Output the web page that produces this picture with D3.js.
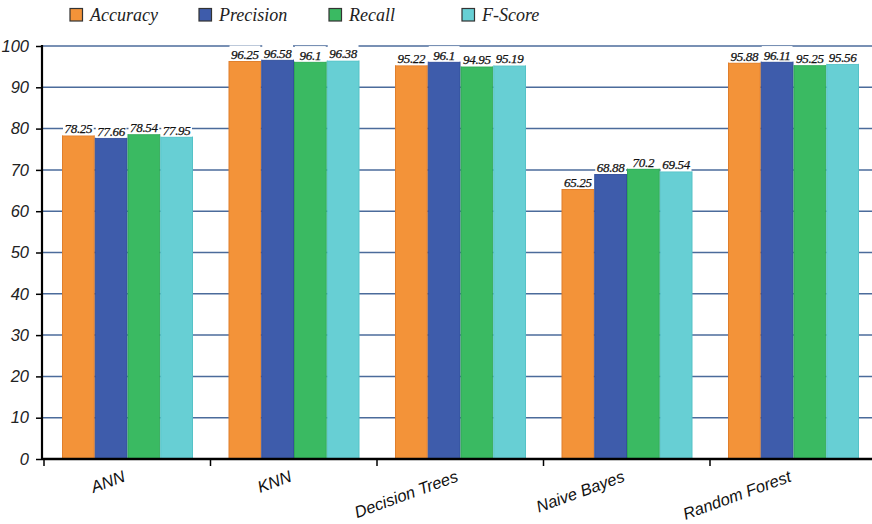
<!DOCTYPE html>
<html><head><meta charset="utf-8">
<script src="https://cdn.jsdelivr.net/npm/d3@7/dist/d3.min.js"></script>
<style>body{margin:0;background:#fff}svg{display:block}</style>
</head><body>
<svg id="c" width="872" height="524"></svg>
<script>
const categories = ["ANN","KNN","Decision Trees","Naive Bayes","Random Forest"];
const seriesNames = ["Accuracy","Precision","Recall","F-Score"];
const accuracy  = [78.25, 96.25, 95.22, 65.25, 95.88];
const precision = [77.66, 96.58, 96.1, 68.88, 96.11];
const recall    = [78.54, 96.1, 94.95, 70.2, 95.25];
const fscore    = [77.95, 96.38, 95.19, 69.54, 95.56];
const yTicks = [0,10,20,30,40,50,60,70,80,90,100];
const colors = ["#f39339","#3e5cab","#3aba62","#67cfd4"];
const strokes = ["#e07f2c","#33509c","#2fa856","#55c2c7"];
const seriesVals = [accuracy, precision, recall, fscore];

const svg = d3.select("#c");
const mLeft = 42, mTop = 46, mBottom = 459, mRight = 872;
const y = d3.scaleLinear().domain([0,100]).range([mBottom, mTop]);
const x0 = d3.scaleBand().domain(categories).range([44, 876.5]).padding(0);
const x1 = d3.scaleBand().domain(seriesNames).range([18, 149]).padding(0);

// gridlines
svg.append("g").selectAll("line").data(yTicks.filter(t=>t>0)).join("line")
  .attr("x1", mLeft).attr("x2", mRight)
  .attr("y1", d=>y(d)).attr("y2", d=>y(d))
  .attr("stroke", "#4b6b9b").attr("stroke-width", 1.5);

const data = [];
categories.forEach((c,i)=>seriesNames.forEach((s,j)=>data.push({c, s, j, v: seriesVals[j][i]})));

// bars
svg.append("g").selectAll("rect").data(data).join("rect")
  .attr("x", d=>x0(d.c)+x1(d.s)+0.5)
  .attr("width", x1.bandwidth()-1)
  .attr("y", d=>y(d.v))
  .attr("height", d=>mBottom - y(d.v))
  .attr("fill", d=>colors[d.j])
  .attr("stroke", d=>strokes[d.j]).attr("stroke-width", 1);

// value labels
const lg = svg.append("g");
lg.selectAll("rect").data(data).join("rect")
  .attr("x", d=>x0(d.c)+x1(d.s)+1)
  .attr("y", d=>y(d.v)-16)
  .attr("width", x1.bandwidth()-2)
  .attr("height", 15.5)
  .attr("fill","#fff");
lg.selectAll("text").data(data).join("text")
  .attr("x", d=>x0(d.c)+x1(d.s)+x1.bandwidth()/2)
  .attr("y", d=>y(d.v)-2.5)
  .attr("text-anchor","middle")
  .attr("font-family","Liberation Serif, serif").attr("font-style","italic")
  .attr("font-size", 13).attr("fill","#111").attr("letter-spacing", -0.3)
  .attr("stroke","#111").attr("stroke-width",0.25)
  .text(d=>String(d.v));

// y axis
const yAxis = svg.append("g").attr("transform", `translate(${mLeft},0)`)
  .call(d3.axisLeft(y).tickValues(yTicks).tickSize(6).tickPadding(7));
yAxis.select(".domain").attr("stroke","#000").attr("stroke-width",2.2).attr("d", `M0,${mTop-1}V${mBottom}`);
yAxis.selectAll(".tick line").attr("stroke","#000").attr("stroke-width",1.5);
yAxis.selectAll("text").attr("font-family","Liberation Sans, sans-serif").attr("font-style","italic")
  .attr("font-size",16.5).attr("fill","#222");

// x axis
const xg = svg.append("g").attr("transform", `translate(0,${mBottom})`);
xg.append("line").attr("x1", mLeft).attr("x2", mRight).attr("y1",0).attr("y2",0)
  .attr("stroke","#000").attr("stroke-width",2.6);
xg.selectAll("line.t").data(categories).join("line").attr("class","t")
  .attr("x1", d=>x0(d)).attr("x2", d=>x0(d)).attr("y1",0).attr("y2",7)
  .attr("stroke","#000").attr("stroke-width",1.5);
xg.selectAll("text").data(categories).join("text")
  .attr("transform", d=>`translate(${x0(d)+x0.bandwidth()/2-1},22) rotate(-20)`)
  .attr("text-anchor","end")
  .attr("font-family","Liberation Sans, sans-serif").attr("font-style","italic")
  .attr("font-size",16.5).attr("fill","#111")
  .text(d=>d);

// legend
const legX = [70, 199, 329, 462];
const leg = svg.append("g");
seriesNames.forEach((s,j)=>{
  leg.append("rect").attr("x", legX[j]).attr("y", 8.5).attr("width", 12.5).attr("height", 12.5)
    .attr("fill", colors[j]).attr("stroke","#333").attr("stroke-width",1.2);
  leg.append("text").attr("x", legX[j]+20).attr("y", 20.5)
    .attr("font-family","Liberation Serif, serif").attr("font-style","italic")
    .attr("font-size",18).attr("fill","#222").text(s);
});
</script>
</body></html>
